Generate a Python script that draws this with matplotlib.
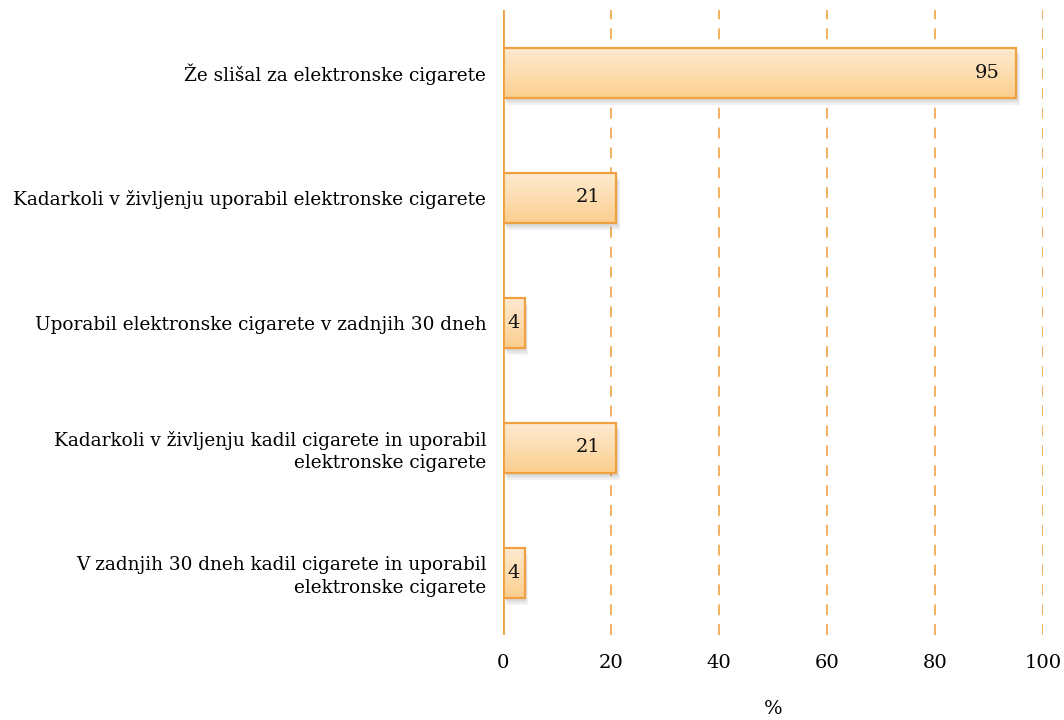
import matplotlib
matplotlib.use("Agg")
import matplotlib.pyplot as plt
import numpy as np
import matplotlib.colors as mcolors

categories = [
    "Že slišal za elektronske cigarete",
    "Kadarkoli v življenju uporabil elektronske cigarete",
    "Uporabil elektronske cigarete v zadnjih 30 dneh",
    "Kadarkoli v življenju kadil cigarete in uporabil\nelektronske cigarete",
    "V zadnjih 30 dneh kadil cigarete in uporabil\nelektronske cigarete",
]
values = [95, 21, 4, 21, 4]
xticks = [0, 20, 40, 60, 80, 100]
xlabel = "%"

ORANGE = "#f0a040"
plt.rcParams['font.family'] = ['DejaVu Serif']

fig = plt.figure(figsize=(10.64, 7.2), dpi=100)
ax = fig.add_axes([503/1064, 1-635/720, 540/1064, 625/720])

y = np.arange(len(categories))
bars = ax.barh(y, values, height=0.4, color="none", edgecolor=ORANGE, linewidth=1.6, zorder=4)

cmap = mcolors.LinearSegmentedColormap.from_list("g", ["#feebd3", "#fccf8f"])
grad = np.linspace(0, 1, 256).reshape(-1, 1)
for b in bars:
    x0, yb, w, h = b.get_x(), b.get_y(), b.get_width(), b.get_height()
    for k, a in enumerate([0.05, 0.05, 0.05]):
        sh = plt.Rectangle((x0 + 0.3 + 0.2 * k, yb + 0.03 + 0.015 * k), w, h,
                           facecolor="#000000", alpha=a, edgecolor="none", zorder=2)
        ax.add_patch(sh)
    im = ax.imshow(grad, cmap=cmap, aspect="auto", extent=(x0, x0 + w, yb + h, yb),
                   zorder=3, interpolation="bicubic")
    im.set_clip_path(b)
ax.set_ylim(len(categories) - 0.5, -0.5)
ax.set_xlim(0, 100)

for b, v in zip(bars, values):
    cy = b.get_y() + b.get_height() / 2
    if v > 10:
        ax.text(v - 3, cy, str(v), ha="right", va="center", fontsize=14, zorder=5, color="#111111")
    else:
        ax.text(v / 2, cy, str(v), ha="center", va="center", fontsize=14, zorder=5, color="#111111")

ax.set_yticks(y)
ax.set_yticklabels(categories, fontsize=13.3, ha="right", multialignment="right", linespacing=1.3)
ax.set_xticks(xticks)
ax.set_xticklabels([str(t) for t in xticks], fontsize=14)
ax.tick_params(axis="both", length=0)
ax.tick_params(axis="x", pad=14)
ax.tick_params(axis="y", pad=12)
ax.set_xlabel(xlabel, fontsize=14, labelpad=20)

for t in xticks[1:]:
    ax.axvline(t, color=ORANGE, linestyle=(0, (6, 5)), linewidth=1.3, alpha=0.9, zorder=1)
ax.axvline(0, color=ORANGE, linewidth=2, zorder=6)
for s in ax.spines.values():
    s.set_visible(False)

fig.savefig("out.png", dpi=100)
